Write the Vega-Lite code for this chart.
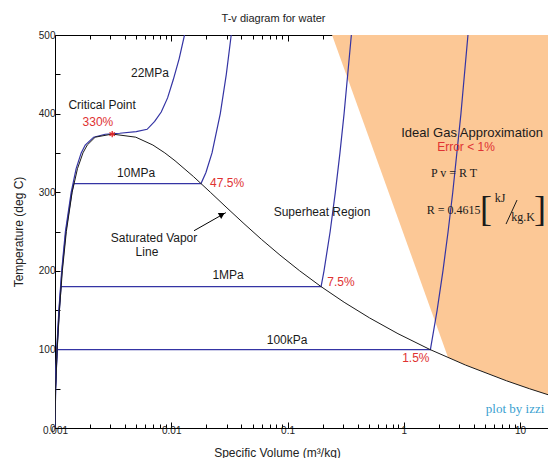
{
  "$schema": "https://vega.github.io/schema/vega-lite/v6.json",
  "width": 493,
  "height": 393,
  "autosize": {"type": "none"},
  "padding": {"left": 55, "top": 35, "right": 0, "bottom": 30},
  "background": "white",
  "config": {"view": {"stroke": null}},
  "title": {"text": "T-v diagram for water", "font": "Liberation Sans", "fontSize": 11, "fontWeight": "normal", "color": "#222", "offset": 6, "dx": -28},
  "datasets": {
    "orange": [
      {"v": 0.2415, "T": 500}, {"v": 2.40, "T": 90}, {"v": 3.4053, "T": 80}, {"v": 7.667, "T": 60},
      {"v": 12.026, "T": 50}, {"v": 19.515, "T": 40}, {"v": 32.879, "T": 30}
    ],
    "iso": [
      {"p": "100kPa", "i": 0, "v": 0.001, "T": 0.01},
      {"p": "100kPa", "i": 1, "v": 0.001012, "T": 50},
      {"p": "100kPa", "i": 2, "v": 0.001043, "T": 99.6},
      {"p": "100kPa", "i": 3, "v": 1.694, "T": 99.6},
      {"p": "100kPa", "i": 4, "v": 1.9367, "T": 150},
      {"p": "100kPa", "i": 5, "v": 2.1724, "T": 200},
      {"p": "100kPa", "i": 6, "v": 2.4062, "T": 250},
      {"p": "100kPa", "i": 7, "v": 2.6389, "T": 300},
      {"p": "100kPa", "i": 8, "v": 3.1027, "T": 400},
      {"p": "100kPa", "i": 9, "v": 3.5655, "T": 500},
      {"p": "1MPa", "i": 0, "v": 0.001, "T": 0.01},
      {"p": "1MPa", "i": 1, "v": 0.001012, "T": 50},
      {"p": "1MPa", "i": 2, "v": 0.001043, "T": 100},
      {"p": "1MPa", "i": 3, "v": 0.001091, "T": 150},
      {"p": "1MPa", "i": 4, "v": 0.001127, "T": 179.9},
      {"p": "1MPa", "i": 5, "v": 0.19436, "T": 179.9},
      {"p": "1MPa", "i": 6, "v": 0.2060, "T": 200},
      {"p": "1MPa", "i": 7, "v": 0.2327, "T": 250},
      {"p": "1MPa", "i": 8, "v": 0.2579, "T": 300},
      {"p": "1MPa", "i": 9, "v": 0.2825, "T": 350},
      {"p": "1MPa", "i": 10, "v": 0.3066, "T": 400},
      {"p": "1MPa", "i": 11, "v": 0.3541, "T": 500},
      {"p": "10MPa", "i": 0, "v": 0.001, "T": 0.01},
      {"p": "10MPa", "i": 1, "v": 0.001008, "T": 50},
      {"p": "10MPa", "i": 2, "v": 0.001039, "T": 100},
      {"p": "10MPa", "i": 3, "v": 0.001085, "T": 150},
      {"p": "10MPa", "i": 4, "v": 0.001148, "T": 200},
      {"p": "10MPa", "i": 5, "v": 0.00124, "T": 250},
      {"p": "10MPa", "i": 6, "v": 0.001397, "T": 300},
      {"p": "10MPa", "i": 7, "v": 0.001452, "T": 311},
      {"p": "10MPa", "i": 8, "v": 0.018028, "T": 311},
      {"p": "10MPa", "i": 9, "v": 0.019877, "T": 325},
      {"p": "10MPa", "i": 10, "v": 0.02242, "T": 350},
      {"p": "10MPa", "i": 11, "v": 0.02641, "T": 400},
      {"p": "10MPa", "i": 12, "v": 0.02975, "T": 450},
      {"p": "10MPa", "i": 13, "v": 0.03279, "T": 500},
      {"p": "22MPa", "i": 0, "v": 0.001, "T": 0.01},
      {"p": "22MPa", "i": 1, "v": 0.001005, "T": 50},
      {"p": "22MPa", "i": 2, "v": 0.001035, "T": 100},
      {"p": "22MPa", "i": 3, "v": 0.00108, "T": 150},
      {"p": "22MPa", "i": 4, "v": 0.001142, "T": 200},
      {"p": "22MPa", "i": 5, "v": 0.001229, "T": 250},
      {"p": "22MPa", "i": 6, "v": 0.001379, "T": 300},
      {"p": "22MPa", "i": 7, "v": 0.00152, "T": 330},
      {"p": "22MPa", "i": 8, "v": 0.00168, "T": 350},
      {"p": "22MPa", "i": 9, "v": 0.00182, "T": 360},
      {"p": "22MPa", "i": 10, "v": 0.00215, "T": 370},
      {"p": "22MPa", "i": 11, "v": 0.0027, "T": 373.7},
      {"p": "22MPa", "i": 12, "v": 0.0036, "T": 375},
      {"p": "22MPa", "i": 13, "v": 0.005, "T": 377},
      {"p": "22MPa", "i": 14, "v": 0.0062, "T": 380},
      {"p": "22MPa", "i": 15, "v": 0.0072, "T": 390},
      {"p": "22MPa", "i": 16, "v": 0.0082, "T": 402},
      {"p": "22MPa", "i": 17, "v": 0.0093, "T": 420},
      {"p": "22MPa", "i": 18, "v": 0.0104, "T": 443},
      {"p": "22MPa", "i": 19, "v": 0.0117, "T": 470},
      {"p": "22MPa", "i": 20, "v": 0.013, "T": 500}
    ],
    "sat": [
      {"i": 0, "v": 0.001, "T": 0.01}, {"i": 1, "v": 0.001012, "T": 50}, {"i": 2, "v": 0.001043, "T": 100},
      {"i": 3, "v": 0.001091, "T": 150}, {"i": 4, "v": 0.001157, "T": 200}, {"i": 5, "v": 0.001252, "T": 250},
      {"i": 6, "v": 0.001404, "T": 300}, {"i": 7, "v": 0.001561, "T": 330}, {"i": 8, "v": 0.00174, "T": 350},
      {"i": 9, "v": 0.001895, "T": 360}, {"i": 10, "v": 0.002217, "T": 370}, {"i": 11, "v": 0.003106, "T": 373.95},
      {"i": 12, "v": 0.004953, "T": 370}, {"i": 13, "v": 0.00695, "T": 360}, {"i": 14, "v": 0.008806, "T": 350},
      {"i": 15, "v": 0.010779, "T": 340}, {"i": 16, "v": 0.015488, "T": 320}, {"i": 17, "v": 0.02167, "T": 300},
      {"i": 18, "v": 0.03016, "T": 280}, {"i": 19, "v": 0.04221, "T": 260}, {"i": 20, "v": 0.05967, "T": 240},
      {"i": 21, "v": 0.08609, "T": 220}, {"i": 22, "v": 0.12721, "T": 200}, {"i": 23, "v": 0.19384, "T": 180},
      {"i": 24, "v": 0.3068, "T": 160}, {"i": 25, "v": 0.5085, "T": 140}, {"i": 26, "v": 0.89133, "T": 120},
      {"i": 27, "v": 1.672, "T": 100}, {"i": 28, "v": 3.4053, "T": 80}, {"i": 29, "v": 7.667, "T": 60},
      {"i": 30, "v": 12.026, "T": 50}, {"i": 31, "v": 19.515, "T": 40}, {"i": 32, "v": 32.879, "T": 30}
    ],
    "arrow": [{"i": 0, "v": 0.0157, "T": 251}, {"i": 1, "v": 0.0295, "T": 274}],
    "slash": [{"i": 0, "v": 7.58, "T": 259.5}, {"i": 1, "v": 9.42, "T": 290}],
    "head": [{"v": 0.02733, "T": 271.6}],
    "crit": [{"v": 0.003106, "T": 373.95}],
    "blackText": [
      {"label": "22MPa", "v": 0.00656, "T": 451.7},
      {"label": "Critical Point", "v": 0.00254, "T": 411},
      {"label": "10MPa", "v": 0.00498, "T": 324.4},
      {"label": "Saturated Vapor", "v": 0.00711, "T": 241.7},
      {"label": "Line", "v": 0.00618, "T": 224},
      {"label": "Superheat Region", "v": 0.198, "T": 274.8},
      {"label": "1MPa", "v": 0.0308, "T": 194.7},
      {"label": "100kPa", "v": 0.0991, "T": 112}
    ],
    "bigText": [
      {"label": "Ideal Gas Approximation", "v": 3.866, "T": 375.3}
    ],
    "redText": [
      {"label": "330%", "v": 0.00234, "T": 389},
      {"label": "47.5%", "v": 0.0302, "T": 311.7},
      {"label": "7.5%", "v": 0.288, "T": 185.8},
      {"label": "1.5%", "v": 1.27, "T": 89},
      {"label": "Error < 1%", "v": 3.43, "T": 357.5}
    ],
    "serifText": [
      {"label": "P v = R T", "v": 2.706, "T": 324.4},
      {"label": "R = 0.4615", "v": 2.68, "T": 277.4}
    ],
    "unitText": [
      {"label": "kJ", "v": 6.75, "T": 292},
      {"label": "kg.K", "v": 10.6, "T": 268}
    ],
    "bracketText": [
      {"label": "[", "v": 5.1, "T": 277.4},
      {"label": "]", "v": 14.86, "T": 277.4}
    ],
    "credit": [{"label": "plot by izzi", "v": 9.06, "T": 24.2}]
  },
  "encoding": {
    "x": {
      "field": "v", "type": "quantitative",
      "scale": {"type": "log", "domain": [0.001, 17.4], "nice": false},
      "axis": null
    },
    "y": {
      "field": "T", "type": "quantitative",
      "scale": {"domain": [0, 500], "nice": false, "zero": true},
      "axis": {
        "values": [0,50,100,150,200,250,300,350,400,450,500],
        "labelExpr": "datum.value % 100 == 0 ? datum.label : ''",
        "tickSize": -5,
        "grid": false,
        "domainColor": "#000", "tickColor": "#000",
        "labelFont": "Liberation Sans", "labelFontSize": 10, "labelColor": "#222", "labelPadding": 5,
        "labelFlush": false, "labelOverlap": false,
        "title": "Temperature (deg C)",
        "titleFont": "Liberation Sans", "titleFontSize": 12, "titleFontWeight": "normal", "titleColor": "#222",
        "titlePadding": 13
      }
    }
  },
  "layer": [
    {
      "data": {"name": "orange"},
      "mark": {"type": "area", "color": "#fcc896", "opacity": 1, "clip": true},
      "encoding": {
        "y2": {"datum": 500},
        "x": {
          "field": "v", "type": "quantitative",
          "scale": {"type": "log", "domain": [0.001, 17.4], "nice": false},
          "axis": {
            "orient": "bottom",
            "values": [0.001,0.002,0.003,0.004,0.005,0.006,0.007,0.008,0.009,0.01,0.02,0.03,0.04,0.05,0.06,0.07,0.08,0.09,0.1,0.2,0.3,0.4,0.5,0.6,0.7,0.8,0.9,1,2,3,4,5,6,7,8,9,10],
            "labelExpr": "abs(log(datum.value)/LN10 - round(log(datum.value)/LN10)) < 0.001 ? format(datum.value, '~g') : ''",
            "tickSize": {"condition": {"test": "abs(log(datum.value)/LN10 - round(log(datum.value)/LN10)) < 0.001", "value": -6}, "value": -4},
            "grid": false,
            "domainColor": "#000", "tickColor": "#000",
            "labelFont": "Liberation Sans", "labelFontSize": 10, "labelColor": "#222", "labelPadding": 3,
            "labelFlush": false, "labelOverlap": false,
            "title": "Specific Volume (m³/kg)",
            "titleFont": "Liberation Sans", "titleFontSize": 12, "titleFontWeight": "normal", "titleColor": "#222",
            "titleX": 222, "titleY": 28, "titleBaseline": "alphabetic", "titleAlign": "center"
          }
        }
      }
    },
    {
      "data": {"name": "iso"},
      "mark": {"type": "line", "color": "#3434a4", "strokeWidth": 1.2, "clip": true},
      "encoding": {"detail": {"field": "p"}, "order": {"field": "i"}}
    },
    {
      "data": {"name": "sat"},
      "mark": {"type": "line", "color": "#1a1a1a", "strokeWidth": 1, "clip": true},
      "encoding": {
        "order": {"field": "i"},
        "x": {
          "field": "v", "type": "quantitative",
          "scale": {"type": "log", "domain": [0.001, 17.4], "nice": false},
          "axis": {
            "orient": "top",
            "values": [0.001,0.002,0.003,0.004,0.005,0.006,0.007,0.008,0.009,0.01,0.02,0.03,0.04,0.05,0.06,0.07,0.08,0.09,0.1,0.2,0.3,0.4,0.5,0.6,0.7,0.8,0.9,1,2,3,4,5,6,7,8,9,10],
            "labels": false,
            "tickSize": {"condition": {"test": "abs(log(datum.value)/LN10 - round(log(datum.value)/LN10)) < 0.001", "value": -6}, "value": -4},
            "grid": false, "domainColor": "#000", "tickColor": "#000", "title": null
          }
        }
      }
    },
    {
      "data": {"name": "arrow"},
      "mark": {"type": "line", "color": "#000", "strokeWidth": 1},
      "encoding": {"order": {"field": "i"}}
    },
    {
      "data": {"name": "slash"},
      "mark": {"type": "line", "color": "#1a1a1a", "strokeWidth": 1},
      "encoding": {"order": {"field": "i"}}
    },
    {
      "data": {"name": "head"},
      "mark": {"type": "point", "shape": "triangle-up", "filled": true, "color": "#000", "size": 45, "angle": 60, "opacity": 1}
    },
    {
      "data": {"name": "crit"},
      "mark": {"type": "point", "shape": "M0,-1L0,1M-0.87,-0.5L0.87,0.5M-0.87,0.5L0.87,-0.5", "filled": false, "color": "#e02828", "strokeWidth": 1.3, "size": 40, "opacity": 1}
    },
    {
      "data": {"name": "blackText"},
      "mark": {"type": "text", "font": "Liberation Sans", "fontSize": 12, "color": "#1a1a1a", "align": "center", "baseline": "middle"},
      "encoding": {"text": {"field": "label"}}
    },
    {
      "data": {"name": "bigText"},
      "mark": {"type": "text", "font": "Liberation Sans", "fontSize": 13, "color": "#1a1a1a", "align": "center", "baseline": "middle"},
      "encoding": {"text": {"field": "label"}}
    },
    {
      "data": {"name": "redText"},
      "mark": {"type": "text", "font": "Liberation Sans", "fontSize": 12, "color": "#e03232", "align": "center", "baseline": "middle"},
      "encoding": {"text": {"field": "label"}}
    },
    {
      "data": {"name": "serifText"},
      "mark": {"type": "text", "font": "Liberation Serif", "fontSize": 12, "color": "#1a1a1a", "align": "center", "baseline": "middle"},
      "encoding": {"text": {"field": "label"}}
    },
    {
      "data": {"name": "unitText"},
      "mark": {"type": "text", "font": "Liberation Serif", "fontSize": 12, "color": "#1a1a1a", "align": "center", "baseline": "middle"},
      "encoding": {"text": {"field": "label"}}
    },
    {
      "data": {"name": "bracketText"},
      "mark": {"type": "text", "font": "Liberation Serif", "fontSize": 36, "fontWeight": 300, "color": "#1a1a1a", "align": "center", "baseline": "middle"},
      "encoding": {"text": {"field": "label"}}
    },
    {
      "data": {"name": "credit"},
      "mark": {"type": "text", "font": "Liberation Serif", "fontSize": 13, "color": "#3a9fd0", "align": "center", "baseline": "middle"},
      "encoding": {"text": {"field": "label"}}
    }
  ],
  "resolve": {"axis": {"x": "independent"}}
}
